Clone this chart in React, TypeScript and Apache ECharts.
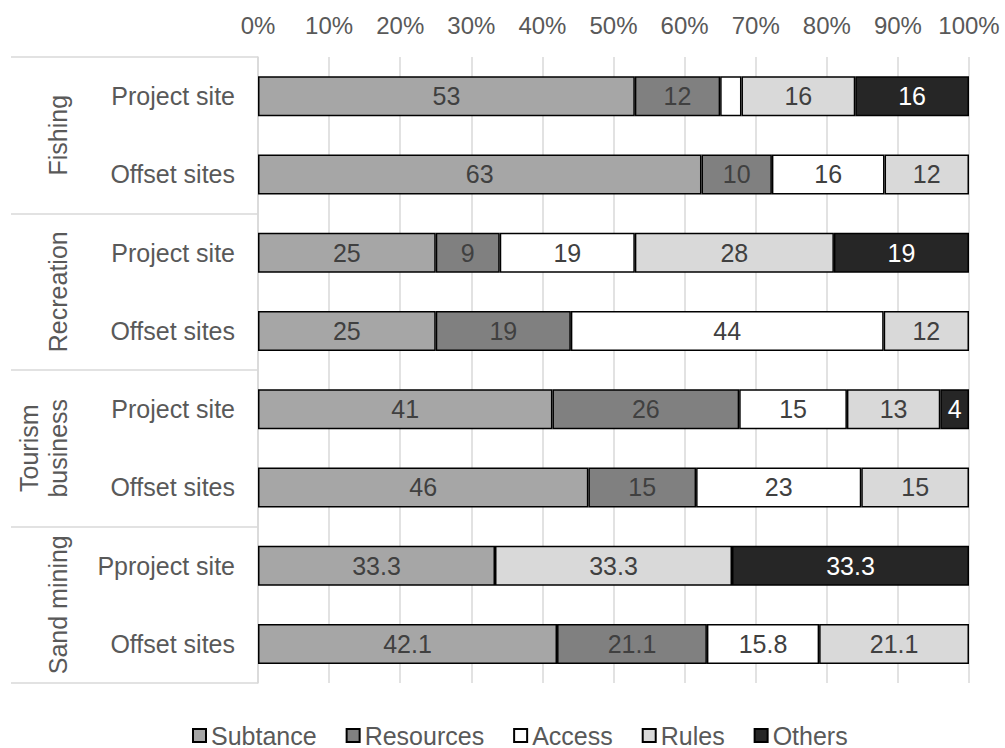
import { useEffect, useRef } from "react";
import * as echarts from "echarts";

// Survey groups (outer axis level) and the site rows within them (inner level)
const groups = ["Fishing", "Recreation", "Tourism\nbusiness", "Sand mining"];
const sites = [
  "Project site",
  "Offset sites",
  "Project site",
  "Offset sites",
  "Project site",
  "Offset sites",
  "Pproject site",
  "Offset sites",
];

const seriesNames = ["Subtance", "Resources", "Access", "Rules", "Others"];

// Raw shares per row, in the same order as `sites`
const subtance = [53, 63, 25, 25, 41, 46, 33.3, 42.1];
const resources = [12, 10, 9, 19, 26, 15, 0, 21.1];
const access = [3, 16, 19, 44, 15, 23, 0, 15.8];
const rules = [16, 12, 28, 12, 13, 15, 33.3, 21.1];
const others = [16, 0, 19, 0, 4, 0, 33.3, 0];

// Segments whose value is left unlabelled: [series index, row index]
const unlabeled = [[2, 0]];

const seriesColors = ["#a6a6a6", "#808080", "#ffffff", "#d9d9d9", "#262626"];
const labelColors = ["#404040", "#404040", "#404040", "#404040", "#ffffff"];

const FONT = "'Liberation Sans', Arial, Helvetica, sans-serif";

export default function App() {
  const ref = useRef<HTMLDivElement>(null);

  useEffect(() => {
    if (!ref.current) return;
    const chart = echarts.init(ref.current, undefined, { renderer: "svg" });

    const values = [subtance, resources, access, rules, others];
    const totals = sites.map((_, i) => values.reduce((s, arr) => s + arr[i], 0));

    const series = values.map((arr, si) => ({
      name: seriesNames[si],
      type: "bar",
      stack: "total",
      barWidth: 40,
      itemStyle: {
        color: seriesColors[si],
        borderColor: "#000000",
        borderWidth: 1.5,
      },
      label: {
        show: true,
        position: "inside",
        color: labelColors[si],
        fontSize: 25,
        fontFamily: FONT,
        formatter: (p: any) => String(arr[p.dataIndex]),
      },
      data: arr.map((v, i) => {
        if (!v) return null;
        const hide = unlabeled.some(([s, r]) => s === si && r === i);
        const item: any = { value: (v / totals[i]) * 100 };
        if (hide) item.label = { show: false };
        return item;
      }),
    }));

    chart.setOption({
      animation: false,
      backgroundColor: "#ffffff",
      textStyle: { fontFamily: FONT },
      grid: { left: 258, right: 36, top: 57, bottom: 65, containLabel: false },
      legend: {
        data: seriesNames,
        left: 187,
        top: 718,
        icon: "rect",
        itemWidth: 13,
        itemHeight: 13,
        itemGap: 29,
        textStyle: { fontSize: 25, color: "#595959", fontFamily: FONT },
      },
      xAxis: {
        type: "value",
        position: "top",
        min: 0,
        max: 100,
        interval: 10,
        axisLine: { show: false },
        axisTick: { show: false },
        axisLabel: {
          formatter: "{value}%",
          fontSize: 24,
          color: "#595959",
          margin: 20,
          fontFamily: FONT,
        },
        splitLine: { show: true, lineStyle: { color: "#d9d9d9", width: 1.5 } },
      },
      yAxis: [
        {
          type: "category",
          data: sites,
          inverse: true,
          position: "left",
          axisLine: { show: true, lineStyle: { color: "#d9d9d9", width: 1.5 } },
          axisTick: { show: false },
          axisLabel: {
            interval: 0,
            margin: 23,
            fontSize: 25,
            color: "#595959",
            fontFamily: FONT,
          },
        },
        {
          type: "category",
          data: groups,
          inverse: true,
          position: "left",
          axisLine: { show: false },
          axisTick: {
            show: true,
            interval: 0,
            length: 247,
            lineStyle: { color: "#d9d9d9", width: 1.5 },
          },
          axisLabel: {
            interval: 0,
            rotate: 90,
            margin: 186,
            fontSize: 25,
            lineHeight: 29,
            color: "#595959",
            fontFamily: FONT,
          },
        },
      ],
      series,
    });

    return () => chart.dispose();
  }, []);

  return (
    <div
      ref={ref}
      style={{ position: "absolute", left: 0, top: 0, width: 1005, height: 748 }}
    />
  );
}
